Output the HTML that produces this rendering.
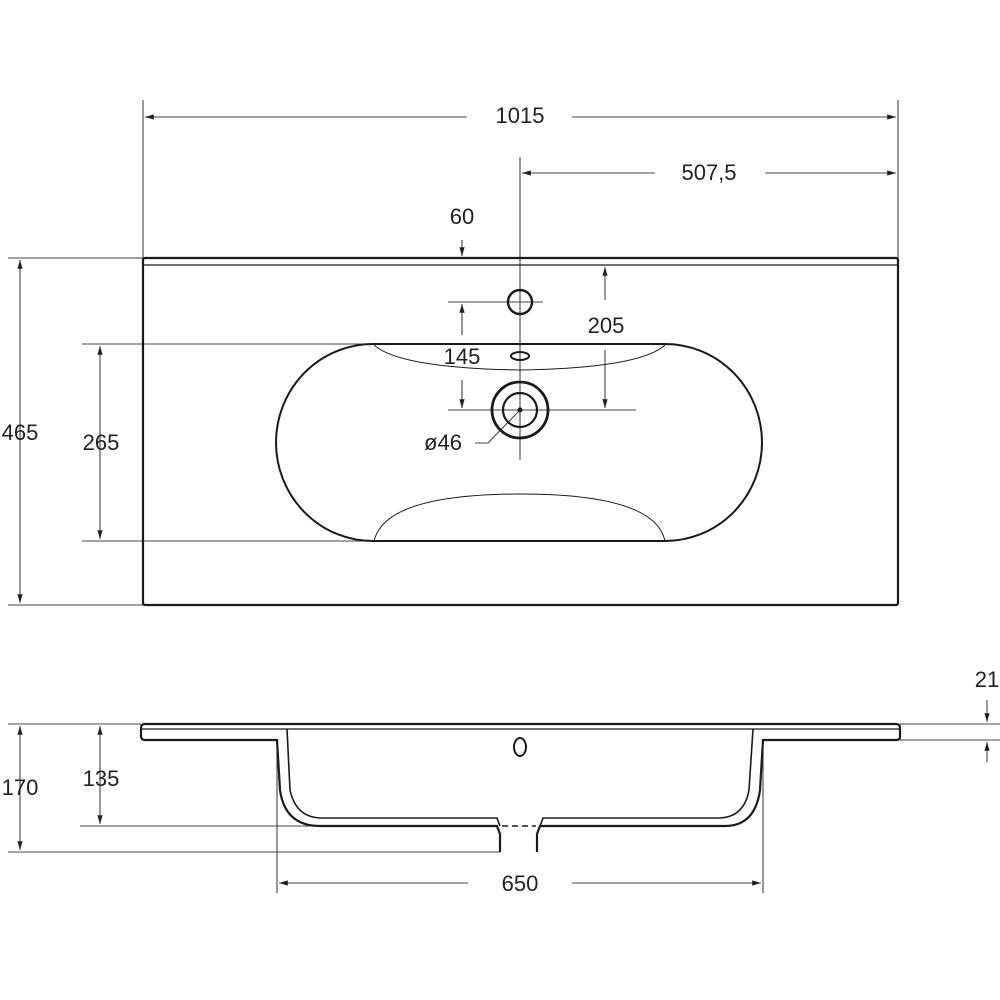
<!DOCTYPE html>
<html><head><meta charset="utf-8"><style>html,body{margin:0;padding:0;background:#fff}svg{display:block}</style></head>
<body>
<svg width="1000" height="1000" viewBox="0 0 1000 1000" xmlns="http://www.w3.org/2000/svg" font-family="Liberation Sans, sans-serif" font-size="22" fill="none">
<defs>
<marker id="a" viewBox="0 0 10 10" refX="10" refY="5" markerWidth="8" markerHeight="8" orient="auto-start-reverse"><path d="M0,2 L10,5 L0,8 z" fill="#222"/></marker>
</defs>
<g stroke="#444" stroke-width="1.1">
<line x1="143" y1="100" x2="143" y2="258"/><line x1="898" y1="100" x2="898" y2="258"/>
<line x1="145" y1="117" x2="467" y2="117" marker-start="url(#a)"/><line x1="572" y1="117" x2="896" y2="117" marker-end="url(#a)"/>
<line x1="520" y1="157" x2="520" y2="460"/>
<line x1="522" y1="173" x2="655" y2="173" marker-start="url(#a)"/><line x1="765" y1="173" x2="896" y2="173" marker-end="url(#a)"/>
<line x1="462" y1="240" x2="462" y2="256" marker-end="url(#a)"/>
<line x1="448" y1="302" x2="543" y2="302"/>
<line x1="462" y1="335" x2="462" y2="304" marker-end="url(#a)"/>
<line x1="605" y1="300" x2="605" y2="267" marker-end="url(#a)"/>
<line x1="605" y1="350" x2="605" y2="408" marker-end="url(#a)"/>
<line x1="448" y1="410" x2="636" y2="410"/>
<line x1="462" y1="380" x2="462" y2="408" marker-end="url(#a)"/>
<polyline points="520,410 488,443 475,443"/>
<line x1="82" y1="344" x2="374" y2="344"/><line x1="82" y1="541" x2="374" y2="541"/>
<line x1="100" y1="346" x2="100" y2="539" marker-start="url(#a)" marker-end="url(#a)"/>
<line x1="8" y1="258" x2="143" y2="258"/><line x1="8" y1="605" x2="143" y2="605"/>
<line x1="20" y1="260" x2="20" y2="603" marker-start="url(#a)" marker-end="url(#a)"/>
<line x1="900" y1="724" x2="1000" y2="724"/><line x1="900" y1="740" x2="1000" y2="740"/>
<line x1="987" y1="700" x2="987" y2="722" marker-end="url(#a)"/>
<line x1="987" y1="762" x2="987" y2="742" marker-end="url(#a)"/>
<line x1="8" y1="724" x2="141" y2="724"/><line x1="8" y1="852" x2="500" y2="852"/>
<line x1="20" y1="726" x2="20" y2="850" marker-start="url(#a)" marker-end="url(#a)"/>
<line x1="80" y1="826" x2="320" y2="826"/>
<line x1="100" y1="726" x2="100" y2="824" marker-start="url(#a)" marker-end="url(#a)"/>
<line x1="277" y1="740" x2="277" y2="893"/><line x1="763" y1="740" x2="763" y2="893"/>
<line x1="279" y1="883" x2="468" y2="883" marker-start="url(#a)"/><line x1="572" y1="883" x2="761" y2="883" marker-end="url(#a)"/>
</g>
<g stroke="#1a1a1a">
<rect x="143" y="258" width="755" height="347" rx="2" stroke-width="2.2"/>
<line x1="143" y1="265" x2="898" y2="265" stroke-width="1.2"/>
<circle cx="520" cy="302" r="12" stroke-width="2.4"/>
<ellipse cx="520" cy="356" rx="9" ry="4" stroke-width="2"/>
<circle cx="520" cy="410" r="28" stroke-width="2.8"/>
<circle cx="520" cy="410" r="17" stroke-width="2.2"/>
<circle cx="520" cy="410" r="2" fill="#222"/>
<path d="M373,344 L665,344 A97,98.5 0 0 1 665,541 L373,541 A97,98.5 0 0 1 373,344 Z" stroke-width="2"/>
<path d="M374,345 Q400,368 520,370 Q640,368 665,345" stroke-width="1"/>
<path d="M374,541 Q385,494 520,494 Q655,494 665,541" stroke-width="1"/>
<path d="M500,852 L500,834 L497,826 L320,826 Q285,826 280,790 L277,740 L145,740 Q141,740 141,736 L141,728 Q141,724 145,724 L896,724 Q900,724 900,728 L900,737 Q900,740 896,740 L763,740 L760,790 Q755,826 725,826 L540,826 L537,834 L537,852" stroke-width="2.2"/>
<path d="M141,729 L900,729" stroke-width="1.2"/>
<path d="M287,729 L290,790 Q296,818 322,818 L497,818 L500,826 M540,826 L543,818 L718,818 Q744,818 749,790 L753,729" stroke-width="1.6"/>
<line x1="502" y1="826" x2="536" y2="826" stroke-dasharray="6,4" stroke-width="1.5"/>
<ellipse cx="520" cy="747" rx="6" ry="9" stroke-width="2"/>
</g>
<g fill="#222" stroke="none" text-anchor="middle">
<text x="520" y="123">1015</text>
<text x="709" y="180">507,5</text>
<text x="462" y="224">60</text>
<text x="606" y="333">205</text>
<text x="462" y="364">145</text>
<text x="443" y="450">ø46</text>
<text x="101" y="450">265</text>
<text x="20" y="440">465</text>
<text x="987" y="687">21</text>
<text x="20" y="795">170</text>
<text x="101" y="786">135</text>
<text x="520" y="891">650</text>
</g>
</svg>
</body></html>
